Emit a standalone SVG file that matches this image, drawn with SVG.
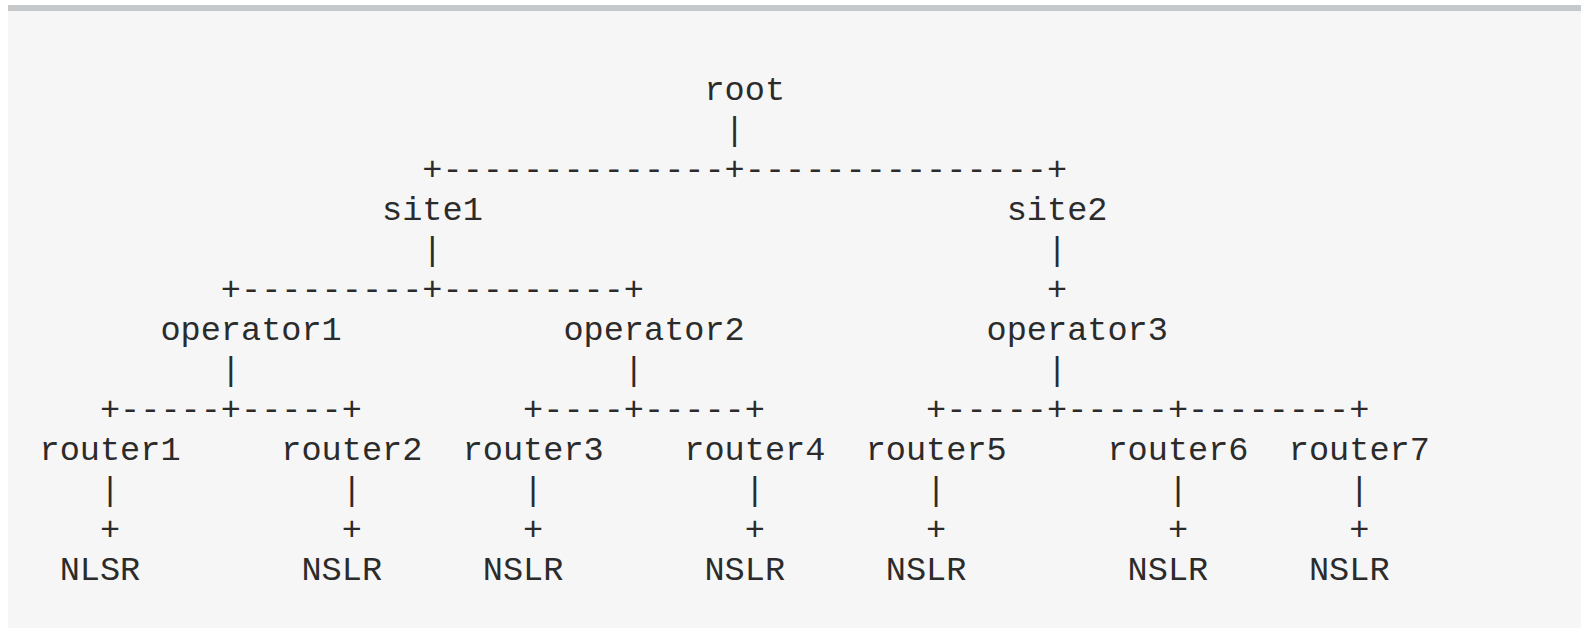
<svg xmlns="http://www.w3.org/2000/svg" width="1581" height="628" viewBox="0 0 1581 628">
  <style>
    .t { font-family: "Liberation Mono", "DejaVu Sans Mono", monospace; font-size: 33.58px; fill: #2b2b2b; }
  </style>
  <!-- page and code block background -->
  <rect x="0" y="0" width="1581" height="628" fill="#ffffff"/>
  <rect x="8" y="11" width="1573" height="617" fill="#f6f6f6"/>
  <rect x="8" y="5" width="1573" height="6" fill="#c5c9cc"/>

  <!-- ASCII tree connectors (monospace grid: 20.15px columns, 40px rows) -->
  <g id="connectors" class="t">
    <text x="724.6" y="140">|</text>
    <text x="422.35" y="180">+--------------+---------------+</text>
    <text x="422.35" y="260">|</text>
    <text x="1047" y="260">|</text>
    <text x="220.85" y="300">+---------+---------+</text>
    <text x="1047" y="300">+</text>
    <text x="220.85" y="380">|</text>
    <text x="623.85" y="380">|</text>
    <text x="1047" y="380">|</text>
    <text x="99.95" y="420">+-----+-----+</text>
    <text x="523.1" y="420">+----+-----+</text>
    <text x="926.1" y="420">+-----+-----+--------+</text>
    <text x="99.95" y="500">|</text>
    <text x="341.75" y="500">|</text>
    <text x="523.1" y="500">|</text>
    <text x="744.75" y="500">|</text>
    <text x="926.1" y="500">|</text>
    <text x="1167.9" y="500">|</text>
    <text x="1349.25" y="500">|</text>
    <text x="99.95" y="540">+</text>
    <text x="341.75" y="540">+</text>
    <text x="523.1" y="540">+</text>
    <text x="744.75" y="540">+</text>
    <text x="926.1" y="540">+</text>
    <text x="1167.9" y="540">+</text>
    <text x="1349.25" y="540">+</text>
  </g>

  <g id="root" class="t"><text x="704.45" y="100">root</text></g>
  <g id="site1" class="t"><text x="382.05" y="220">site1</text></g>
  <g id="site2" class="t"><text x="1006.7" y="220">site2</text></g>
  <g id="operator1" class="t"><text x="160.4" y="340">operator1</text></g>
  <g id="operator2" class="t"><text x="563.4" y="340">operator2</text></g>
  <g id="operator3" class="t"><text x="986.55" y="340">operator3</text></g>
  <g id="router1" class="t"><text x="39.5" y="460">router1</text></g>
  <g id="router2" class="t"><text x="281.3" y="460">router2</text></g>
  <g id="router3" class="t"><text x="462.65" y="460">router3</text></g>
  <g id="router4" class="t"><text x="684.3" y="460">router4</text></g>
  <g id="router5" class="t"><text x="865.65" y="460">router5</text></g>
  <g id="router6" class="t"><text x="1107.45" y="460">router6</text></g>
  <g id="router7" class="t"><text x="1288.8" y="460">router7</text></g>
  <g id="nlsr1" class="t"><text x="59.65" y="580">NLSR</text></g>
  <g id="nslr2" class="t"><text x="301.45" y="580">NSLR</text></g>
  <g id="nslr3" class="t"><text x="482.8" y="580">NSLR</text></g>
  <g id="nslr4" class="t"><text x="704.45" y="580">NSLR</text></g>
  <g id="nslr5" class="t"><text x="885.8" y="580">NSLR</text></g>
  <g id="nslr6" class="t"><text x="1127.6" y="580">NSLR</text></g>
  <g id="nslr7" class="t"><text x="1308.95" y="580">NSLR</text></g>
</svg>
